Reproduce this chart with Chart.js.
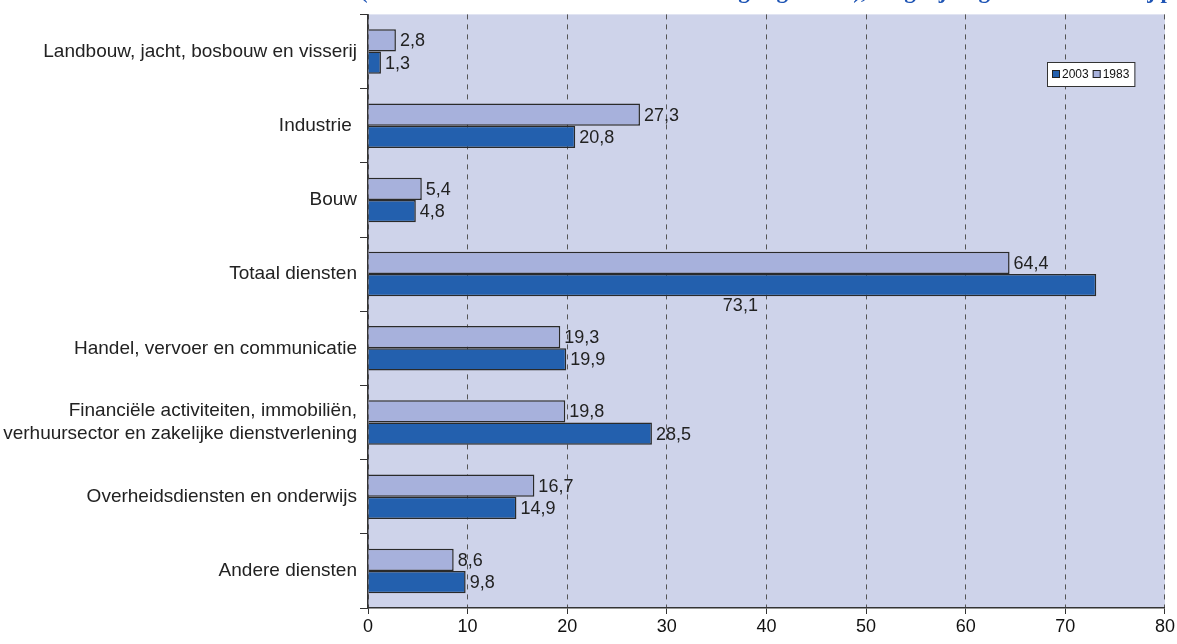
<!DOCTYPE html>
<html>
<head>
<meta charset="utf-8">
<script src="https://cdn.jsdelivr.net/npm/chart.js@4"></script>
<style>
  html, body { margin: 0; padding: 0; background: #fff; }
  #wrap { width: 1177px; height: 644px; }
</style>
</head>
<body>
<div id="wrap"><canvas id="graph"></canvas></div>
<script>
// categorieën
const CATEGORIES = [
  'Landbouw, jacht, bosbouw en visserij',
  'Industrie ',
  'Bouw',
  'Totaal diensten',
  'Handel, vervoer en communicatie',
  ['Financiële activiteiten, immobiliën,', 'verhuursector en zakelijke dienstverlening'],
  'Overheidsdiensten en onderwijs',
  'Andere diensten'
];

// reeksen
const SERIES_NAMES = ['1983', '2003'];
const VALUES_1983 = [2.8, 27.3, 5.4, 64.4, 19.3, 19.8, 16.7, 8.6];
const VALUES_2003 = [1.3, 20.8, 4.8, 73.1, 19.9, 28.5, 14.9, 9.8];

// x-as
const X_TICKS = [0, 10, 20, 30, 40, 50, 60, 70, 80];

// titel (grotendeels buiten beeld)
const TITLE = '(in % van de totale binnenlandse werkgelegenheid), vergelijking 1983 en 2003 bij p';

const COLOR_1983 = '#A7B1DC';
const COLOR_2003 = '#2360AE';
const PLOT_BG = '#CED3EA';

// achtergrond plotgebied
const plotBg = {
  id: 'plotBg',
  beforeDraw(chart) {
    const a = chart.chartArea;
    const ctx = chart.ctx;
    ctx.save();
    ctx.fillStyle = PLOT_BG;
    ctx.fillRect(a.left, a.top, a.right - a.left, a.bottom - a.top);
    ctx.restore();
  }
};

// waardelabels
const valueLabels = {
  id: 'valueLabels',
  afterDatasetsDraw(chart) {
    const ctx = chart.ctx;
    ctx.save();
    ctx.font = '18px "Liberation Sans", Arial, sans-serif';
    ctx.fillStyle = '#222';
    ctx.textBaseline = 'middle';
    chart.data.datasets.forEach(function(ds, di) {
      chart.getDatasetMeta(di).data.forEach(function(bar, i) {
        const txt = ds.data[i].toFixed(1).replace('.', ',');
        if (ds.data[i] > 70) {
          // past niet: onder de balk
          ctx.textAlign = 'center';
          ctx.fillText(txt, (bar.base + bar.x) / 2 + 8, bar.y + bar.height / 2 + 10);
        } else {
          ctx.textAlign = 'left';
          ctx.fillText(txt, bar.x + 4, bar.y + 1);
        }
      });
    });
    ctx.restore();
  }
};

// legenda en titel
const extras = {
  id: 'extras',
  afterDraw(chart) {
    const ctx = chart.ctx;
    ctx.save();
    // legenda
    ctx.font = '12px "Liberation Sans", Arial, sans-serif';
    const items = [[SERIES_NAMES[1], COLOR_2003], [SERIES_NAMES[0], COLOR_1983]];
    let lw = 6;
    items.forEach(function(it) { lw += 10 + ctx.measureText(it[0]).width + 4; });
    const lx = 1047, ly = 62, lh = 24;
    ctx.fillStyle = '#fff';
    ctx.fillRect(lx, ly, lw, lh);
    ctx.strokeStyle = '#333';
    ctx.lineWidth = 1;
    ctx.strokeRect(lx + 0.5, ly + 0.5, lw, lh);
    ctx.textBaseline = 'middle';
    ctx.textAlign = 'left';
    let x = lx + 5;
    items.forEach(function(it) {
      ctx.fillStyle = it[1];
      ctx.fillRect(x, ly + lh / 2 - 4, 8, 8);
      ctx.strokeStyle = '#222';
      ctx.strokeRect(x + 0.5, ly + lh / 2 - 3.5, 7, 7);
      ctx.fillStyle = '#111';
      ctx.fillText(it[0], x + 10, ly + lh / 2 + 1);
      x += 10 + ctx.measureText(it[0]).width + 4;
    });
    // titel
    ctx.font = 'bold 23px "Liberation Serif", "Times New Roman", serif';
    ctx.fillStyle = '#1F55B5';
    ctx.textBaseline = 'alphabetic';
    ctx.textAlign = 'left';
    ctx.fillText(TITLE, 360, -2);
    ctx.restore();
  }
};

let graph = null;

function drawGraph() {
  if (graph != null) {
    graph.destroy();
  }
  graph = new Chart(document.getElementById('graph'), {
    type: 'bar',
    data: {
      labels: CATEGORIES,
      datasets: [
        {
          label: SERIES_NAMES[0],
          data: VALUES_1983,
          backgroundColor: COLOR_1983,
          borderColor: '#2a2a2a',
          borderWidth: 1.5,
          borderSkipped: 'left'
        },
        {
          label: SERIES_NAMES[1],
          data: VALUES_2003,
          backgroundColor: COLOR_2003,
          borderColor: '#2a2a2a',
          borderWidth: 1.5,
          borderSkipped: 'left'
        }
      ]
    },
    options: {
      indexAxis: 'y',
      responsive: true,
      maintainAspectRatio: false,
      animation: false,
      datasets: {
        bar: { categoryPercentage: 0.6, barPercentage: 1.0 }
      },
      layout: { padding: { left: 0, right: 12, top: 11, bottom: 0 } },
      plugins: {
        legend: { display: false },
        tooltip: { enabled: false }
      },
      scales: {
        x: {
          min: X_TICKS[0],
          max: X_TICKS[X_TICKS.length - 1],
          afterBuildTicks: function(scale) {
            scale.ticks = X_TICKS.map(function(v) { return { value: v }; });
          },
          afterFit: function(scale) { scale.height = 36; },
          grid: {
            color: '#555',
            lineWidth: 1,
            tickColor: '#333',
            tickLength: 6,
            drawOnChartArea: true
          },
          border: { display: true, color: '#333', width: 1.5, dash: [5, 5] },
          ticks: {
            color: '#111',
            padding: 2,
            font: { family: '"Liberation Sans Narrow", "Liberation Sans", Arial', size: 18 }
          }
        },
        y: {
          afterFit: function(scale) { scale.width = 368; },
          grid: {
            drawOnChartArea: false,
            drawTicks: true,
            tickLength: 8,
            tickColor: '#333',
            offset: true
          },
          border: { display: true, color: '#333', width: 1.5 },
          ticks: {
            color: '#222',
            padding: 3,
            font: { family: '"Liberation Sans", Arial', size: 19 }
          }
        }
      }
    },
    plugins: [plotBg, valueLabels, extras]
  });
}

drawGraph();
</script>
</body>
</html>
